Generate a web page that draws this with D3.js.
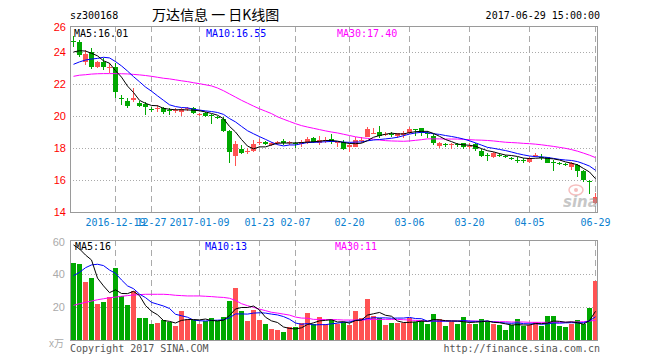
<!DOCTYPE html>
<html><head><meta charset="utf-8">
<script src="https://cdn.jsdelivr.net/npm/d3@7"></script>
<style>html,body{margin:0;padding:0;background:#fff}svg{display:block}</style>
</head><body>
<svg id="chart" width="660" height="360"></svg>
<script>
const dates = ["2016-12-08","2016-12-09","2016-12-12","2016-12-13","2016-12-14","2016-12-15","2016-12-16","2016-12-19","2016-12-20","2016-12-21",
"2016-12-22","2016-12-23","2016-12-26","2016-12-27","2016-12-28","2016-12-29","2016-12-30","2017-01-03","2017-01-04","2017-01-05",
"2017-01-06","2017-01-09","2017-01-10","2017-01-11","2017-01-12","2017-01-13","2017-01-16","2017-01-17","2017-01-18","2017-01-19",
"2017-01-20","2017-01-23","2017-01-24","2017-01-25","2017-01-26","2017-02-03","2017-02-06","2017-02-07","2017-02-08","2017-02-09",
"2017-02-10","2017-02-13","2017-02-14","2017-02-15","2017-02-16","2017-02-17","2017-02-20","2017-02-21","2017-02-22","2017-02-23",
"2017-02-24","2017-02-27","2017-02-28","2017-03-01","2017-03-02","2017-03-03","2017-03-06","2017-03-07","2017-03-08","2017-03-09",
"2017-03-10","2017-03-13","2017-03-14","2017-03-15","2017-03-16","2017-03-17","2017-03-20","2017-03-21","2017-03-22","2017-03-23",
"2017-03-24","2017-03-27","2017-03-28","2017-03-29","2017-03-30","2017-03-31","2017-04-05","2017-04-06","2017-04-07","2017-04-10",
"2017-04-11","2017-04-12","2017-04-13","2017-04-14","2017-04-17","2017-04-18","2017-04-19","2017-06-29"];

const open = [24.70,24.65,23.40,24.02,23.08,23.40,22.98,23.08,21.10,20.96, 20.98,20.83,20.72,20.46,20.48,20.48,20.35,20.37,20.23,20.44,
20.48,20.10,20.17,20.04,19.93,19.81,19.06,17.50,17.94,17.79, 17.81,18.33,18.40,18.19,18.35,18.46,18.33,18.31,18.25,18.29,
18.60,18.29,18.50,18.54,18.33,18.40,18.04,18.08,18.50,18.71, 18.94,18.98,18.88,18.88,18.75,18.79,18.96,19.21,19.23,18.96,
18.75,18.12,18.23,18.23,18.25,18.29,18.04,18.25,17.83,17.58, 17.46,17.58,17.50,17.38,17.27,17.27,17.15,17.50,17.46,17.42,
17.15,17.04,17.00,16.83,16.94,16.58,15.92,14.58];
const high = [25.00,24.75,24.12,24.23,23.46,23.60,23.30,23.30,21.30,21.10, 21.73,20.96,20.90,20.58,20.69,20.58,20.48,20.48,20.52,20.58,
20.54,20.21,20.23,20.10,20.02,19.96,19.12,18.45,18.19,18.02, 18.50,18.54,18.46,18.35,18.46,18.54,18.46,18.40,18.50,18.71,
18.71,18.75,18.71,18.85,18.40,18.50,18.29,18.71,18.71,19.29, 19.23,19.40,19.00,19.02,18.96,19.08,19.29,19.21,19.23,19.08,
18.88,18.40,18.33,18.33,18.33,18.33,18.29,18.33,17.92,17.71, 17.77,17.67,17.58,17.46,17.42,17.35,17.46,17.71,17.62,17.46,
17.25,17.12,17.06,17.12,17.00,16.62,16.00,15.17];
const low = [24.30,23.71,23.19,22.92,22.98,22.88,22.67,21.10,20.70,20.48, 20.90,20.54,20.05,20.27,20.23,20.12,20.06,20.20,20.00,20.30,
20.10,20.02,19.96,19.48,19.79,19.02,17.04,16.85,17.60,17.60, 17.77,18.19,18.19,18.12,18.19,18.19,18.19,17.98,18.04,18.25,
18.29,18.19,18.29,18.25,18.08,17.88,17.77,18.04,18.29,18.67, 18.85,18.60,18.75,18.71,18.60,18.60,18.88,18.75,18.75,18.60,
18.19,17.98,18.08,17.92,18.08,17.96,17.92,17.83,17.46,17.21, 17.35,17.42,17.40,17.25,17.08,17.04,17.04,17.42,17.25,17.04,
16.58,16.92,16.90,16.62,16.20,15.90,15.10,14.48];
const close = [24.62,23.81,23.88,23.08,23.40,23.08,23.08,21.52,21.05,20.62, 21.10,20.62,20.55,20.43,20.52,20.27,20.33,20.40,20.44,20.48,
20.17,20.14,20.00,20.02,19.90,19.08,17.77,18.25,17.67,17.83, 18.25,18.35,18.25,18.29,18.38,18.29,18.35,18.27,18.40,18.54,
18.40,18.50,18.52,18.40,18.35,17.92,18.19,18.50,18.52,19.17, 18.96,18.75,18.90,18.86,18.92,18.96,19.17,19.19,18.94,18.94,
18.29,18.29,18.21,18.25,18.23,18.04,18.12,17.92,17.50,17.56, 17.71,17.56,17.46,17.35,17.25,17.25,17.40,17.56,17.44,17.08,
17.13,17.02,16.98,17.04,16.58,16.00,15.88,14.92];
const volume = [46.7,46.1,35.2,37.8,21.8,23.0,25.9,43.6,26.9,21.2, 29.7,13.1,13.5,9.7,10.5,12.1,10.7,8.7,17.6,12.7,
12.1,9.7,11.5,13.1,11.5,14.1,23.8,31.7,17.6,11.5, 18.2,12.1,9.7,6.7,6.1,4.8,7.9,7.9,10.1,16.4,
9.7,13.9,9.5,12.1,9.5,10.7,9.1,17.6,13.5,24.8, 14.5,13.1,9.1,10.3,10.3,10.3,13.5,10.7,12.1,9.7,
15.8,12.5,8.5,11.1,9.7,13.9,9.7,9.7,12.7,11.5, 9.7,9.1,6.1,9.1,12.7,8.5,9.1,10.7,8.5,14.5,
14.5,8.5,7.9,9.7,12.1,9.7,19.6,35.8];

const ma5 = [24.00,24.08,24.06,23.92,23.76,23.45,23.30,22.83,22.43,21.87, 21.47,20.98,20.79,20.66,20.64,20.48,20.42,20.39,20.39,20.38,
20.36,20.33,20.25,20.16,20.05,19.83,19.35,19.00,18.53,18.12, 17.95,18.07,18.07,18.19,18.30,18.31,18.31,18.32,18.34,18.37,
18.39,18.42,18.47,18.47,18.43,18.34,18.28,18.27,18.30,18.46, 18.67,18.78,18.86,18.93,18.88,18.88,18.96,19.02,19.04,19.04,
18.91,18.73,18.53,18.40,18.25,18.20,18.17,18.11,17.96,17.83, 17.76,17.65,17.56,17.53,17.47,17.37,17.34,17.36,17.38,17.35,
17.32,17.25,17.13,17.05,16.95,16.72,16.50,16.08];
const ma10 = [23.23,23.38,23.50,23.56,23.60,23.67,23.63,23.40,23.13,22.81, 22.46,22.14,21.81,21.55,21.26,20.98,20.70,20.59,20.53,20.51,
20.42,20.37,20.32,20.28,20.22,20.10,19.84,19.63,19.35,19.08, 18.89,18.71,18.54,18.36,18.21,18.13,18.19,18.19,18.27,18.34,
18.35,18.37,18.39,18.41,18.40,18.37,18.35,18.37,18.38,18.45, 18.50,18.53,18.57,18.61,18.67,18.77,18.87,18.94,18.98,18.96,
18.89,18.85,18.78,18.72,18.65,18.56,18.45,18.32,18.18,18.04, 17.98,17.91,17.84,17.75,17.65,17.57,17.50,17.46,17.45,17.41,
17.35,17.29,17.25,17.22,17.15,17.02,16.87,16.61];
const ma30 = [22.48,22.55,22.58,22.62,22.64,22.65,22.65,22.65,22.64,22.63, 22.60,22.57,22.53,22.48,22.42,22.36,22.32,22.26,22.20,22.15,
22.08,22.02,21.95,21.88,21.75,21.58,21.38,21.18,20.98,20.80, 20.62,20.45,20.30,20.15,19.95,19.80,19.66,19.52,19.40,19.31,
19.23,19.15,19.07,19.00,18.94,18.86,18.78,18.70,18.64,18.60, 18.55,18.50,18.46,18.44,18.43,18.42,18.44,18.48,18.52,18.57,
18.57,18.57,18.56,18.56,18.56,18.54,18.52,18.50,18.49,18.47, 18.44,18.40,18.36,18.34,18.32,18.29,18.27,18.24,18.20,18.15,
18.10,18.04,17.98,17.90,17.80,17.68,17.55,17.40];

const vma5 = [57.6,55.2,51.5,48.5,37.5,32.8,28.7,30.4,28.2,28.1, 29.5,26.9,20.9,17.4,15.3,11.8,11.3,10.3,11.9,12.4,
12.4,12.2,12.7,11.8,11.6,12.0,14.8,18.8,19.7,19.7, 20.6,18.2,13.8,11.6,10.6,7.9,7.0,6.7,7.4,9.4,
10.4,11.6,11.9,12.3,10.9,11.1,10.2,11.8,12.1,15.1, 15.9,16.7,15.0,14.4,11.5,10.6,10.7,11.0,11.4,11.3,
12.4,12.2,11.7,11.5,11.5,11.1,10.6,10.8,11.1,11.5, 10.7,10.5,9.8,9.1,9.3,9.1,9.1,10.0,9.9,10.3,
11.5,11.3,10.8,11.0,10.5,9.6,11.8,17.4];
const vma10 = [39.0,41.0,43.8,45.5,45.9,45.1,42.4,40.4,36.4,32.8, 31.1,27.8,25.7,22.8,21.7,20.6,19.1,15.6,14.7,13.8,
12.1,11.7,11.5,11.9,12.0,12.2,13.5,15.8,15.8,15.7, 16.3,16.5,16.3,15.7,15.2,14.2,12.6,10.3,9.5,10.0,
9.1,9.3,9.3,9.8,10.2,10.8,10.9,11.9,12.2,13.0, 13.5,13.4,13.4,13.2,13.3,13.3,13.7,13.0,12.9,11.4,
11.5,11.4,11.4,11.5,11.4,11.8,11.4,11.3,11.3,11.5, 10.9,10.6,10.3,10.1,10.4,9.9,9.8,9.9,9.5,9.8,
10.3,10.2,10.4,10.5,10.4,10.5,11.6,14.1];
const vma30 = [21.0,22.0,22.8,23.6,24.4,25.0,25.6,26.0,26.5,26.9, 27.3,27.5,27.7,27.7,27.7,27.7,27.5,27.1,26.9,26.7,
26.7,26.7,26.5,26.3,26.0,25.8,25.3,24.0,22.0,20.8, 19.8,18.7,17.8,16.8,16.3,15.7,15.1,13.9,13.3,13.2,
12.5,12.5,12.4,12.4,12.3,12.1,12.1,12.1,12.1,12.3, 12.5,12.5,12.5,12.5,12.5,12.3,12.1,11.9,11.7,11.5,
11.5,11.5,11.5,11.5,11.5,11.5,11.5,11.5,11.3,11.3, 11.1,11.1,11.1,10.9,10.9,10.9,10.7,10.7,10.7,10.7,
10.7,10.7,10.7,10.9,10.9,11.1,11.5,11.9];

const priceTicks = [14,16,18,20,22,24];
const priceTopLabel = "26";
const volTicks = [20,40,60];
const volUnit = "x万";
const xTickDates = ["2016-12-19","2016-12-27","2017-01-09","2017-01-23","2017-02-07","2017-02-20","2017-03-06","2017-03-20","2017-04-05","2017-06-29"];
const xTickLabels = ["2016-12-19","12-27","2017-01-09","01-23","02-07","02-20","03-06","03-20","04-05","06-29"];
const legendPrice = ["MA5:16.01","MA10:16.55","MA30:17.40"];
const legendVol = ["MA5:16","MA10:13","MA30:11"];
const titleCode = "sz300168";
const titleName = "万达信息 一 日K线图";
const titleTime = "2017-06-29 15:00:00";

const UP = "#ff5353", DOWN = "#00a800", GRID = "#aaaaaa", BORDER = "#9a9a9a";
const MA_COLORS = ["#000000","#0000ff","#ff00ff"];
const MONO = "'DejaVu Sans Mono', 'Liberation Mono', monospace";

const L = 70, R = 598, PT = 26, PB = 212, VT = 240, VB = 340;
const svg = d3.select("#chart");
const x = d3.scaleBand().domain(dates).range([L, R]).padding(0);
const cx = d => Math.round(x(d)) + 3.5;
const yP = d3.scaleLinear().domain([14, 14 + (PB - PT) / 16]).range([PB, PT]);
const yV = d3.scaleLinear().domain([0, (VB - VT) / 1.65]).range([VB, VT]);
const crisp = v => Math.round(v) + 0.5;

const data = dates.map((d, i) => ({d, o: open[i], h: high[i], l: low[i], c: close[i], v: volume[i],
  m5: ma5[i], m10: ma10[i], m30: ma30[i], v5: vma5[i], v10: vma10[i], v30: vma30[i]}));

const grid = svg.append("g");
grid.selectAll(".hp").data(priceTicks.filter(t => t > 14)).join("line")
  .attr("x1", L).attr("x2", R).attr("y1", t => crisp(yP(t))).attr("y2", t => crisp(yP(t)))
  .attr("stroke", GRID).attr("stroke-dasharray", "1,2");
grid.selectAll(".hv").data(volTicks.filter(t => t < 60)).join("line")
  .attr("x1", L).attr("x2", R).attr("y1", t => crisp(yV(t))).attr("y2", t => crisp(yV(t)))
  .attr("stroke", GRID).attr("stroke-dasharray", "1,2");
[[PT, PB], [VT, VB]].forEach(([a, b]) => {
  grid.append("g").selectAll("line").data(xTickDates).join("line")
    .attr("x1", d => cx(d)).attr("x2", d => cx(d)).attr("y1", a).attr("y2", b)
    .attr("stroke", GRID).attr("stroke-dasharray", "6,4");
});

svg.append("g").selectAll("rect").data(data).join("rect")
  .attr("x", d => Math.round(x(d.d)) + 1).attr("width", 5)
  .attr("y", d => Math.round(yV(d.v))).attr("height", d => VB - Math.round(yV(d.v)))
  .attr("fill", d => d.c >= d.o ? UP : DOWN);

const cg = svg.append("g");
cg.selectAll("line").data(data).join("line")
  .attr("x1", d => cx(d.d)).attr("x2", d => cx(d.d))
  .attr("y1", d => Math.round(yP(d.h))).attr("y2", d => Math.round(yP(d.l)))
  .attr("stroke", d => d.c >= d.o ? UP : DOWN).attr("stroke-width", 1);
cg.selectAll("rect").data(data).join("rect")
  .attr("x", d => Math.round(x(d.d)) + 1).attr("width", 5)
  .attr("y", d => Math.round(yP(Math.max(d.o, d.c))))
  .attr("height", d => Math.max(1, Math.round(yP(Math.min(d.o, d.c))) - Math.round(yP(Math.max(d.o, d.c)))))
  .attr("fill", d => d.c >= d.o ? UP : DOWN);

const lp = k => d3.line().x(d => cx(d.d)).y(d => yP(d[k]));
const lv = k => d3.line().x(d => cx(d.d)).y(d => yV(d[k]));
["m30","m10","m5"].forEach((k, j) => svg.append("path").datum(data).attr("d", lp(k))
  .attr("fill", "none").attr("stroke", MA_COLORS[2 - j]).attr("stroke-width", 1));
["v30","v10","v5"].forEach((k, j) => svg.append("path").datum(data).attr("d", lv(k))
  .attr("fill", "none").attr("stroke", MA_COLORS[2 - j]).attr("stroke-width", 1));

const wm = svg.append("g").attr("opacity", 0.55);
wm.append("ellipse").attr("cx", 576).attr("cy", 190).attr("rx", 7).attr("ry", 5)
  .attr("fill", "none").attr("stroke", "#f08a8a").attr("stroke-width", 1.5);
wm.append("circle").attr("cx", 576).attr("cy", 190).attr("r", 2).attr("fill", "#f08a8a");
wm.append("text").attr("x", 563).attr("y", 207).text("sina")
  .attr("font-family", "'DejaVu Sans', sans-serif").attr("font-size", 15).attr("font-style", "italic")
  .attr("font-weight", "bold").attr("fill", "#9a9a9a");

const bd = svg.append("g").attr("fill", "none").attr("stroke", BORDER);
bd.append("rect").attr("x", L + 0.5).attr("y", PT + 0.5).attr("width", R - L - 1).attr("height", PB - PT);
bd.append("rect").attr("x", L + 0.5).attr("y", VT + 0.5).attr("width", R - L - 1).attr("height", VB - VT);

svg.append("g").selectAll("text").data(priceTicks).join("text")
  .attr("x", 66).attr("y", t => yP(t)).attr("dy", "0.35em").attr("text-anchor", "end")
  .attr("font-family", "'Liberation Sans', Arial, sans-serif").attr("font-size", 11).attr("fill", "#ff0000").text(t => t);
svg.append("text").attr("x", 66).attr("y", PT + 1).attr("dy", "0.35em").attr("text-anchor", "end")
  .attr("font-family", "'Liberation Sans', Arial, sans-serif").attr("font-size", 11).attr("fill", "#ff0000").text(priceTopLabel);
svg.append("g").selectAll("text").data(volTicks).join("text")
  .attr("x", 65).attr("y", t => Math.max(yV(t), VT + 2)).attr("dy", "0.35em").attr("text-anchor", "end")
  .attr("font-family", "'Liberation Sans', Arial, sans-serif").attr("font-size", 11).attr("fill", "#aaaaaa").text(t => t);
svg.append("text").attr("x", 64).attr("y", VB + 3).attr("dy", "0.35em").attr("text-anchor", "end")
  .attr("font-family", "'Liberation Sans', 'Noto Sans CJK SC', sans-serif").attr("font-size", 10).attr("fill", "#aaaaaa").text(volUnit);

svg.append("g").selectAll("text").data(xTickDates).join("text")
  .attr("x", d => cx(d)).attr("y", 226).attr("text-anchor", "middle")
  .attr("font-family", MONO).attr("font-size", 10).attr("fill", "#0a80d0")
  .text((d, i) => xTickLabels[i]);

const lgX = [74, 206, 337];
legendPrice.forEach((t, i) => svg.append("text").attr("x", lgX[i]).attr("y", 37).text(t)
  .attr("font-family", MONO).attr("font-size", 10).attr("fill", MA_COLORS[i]));
const lgV = [75, 205, 335];
legendVol.forEach((t, i) => svg.append("text").attr("x", lgV[i]).attr("y", 250).text(t)
  .attr("font-family", MONO).attr("font-size", 10).attr("fill", MA_COLORS[i]));

svg.append("text").attr("x", 70).attr("y", 19).text(titleCode)
  .attr("font-family", MONO).attr("font-size", 10).attr("fill", "#000");
svg.append("text").attr("x", 152).attr("y", 20).text(titleName)
  .attr("font-family", "'Noto Sans CJK SC', sans-serif").attr("font-size", 14).attr("fill", "#000");
svg.append("text").attr("x", 600).attr("y", 19).attr("text-anchor", "end").text(titleTime)
  .attr("font-family", MONO).attr("font-size", 10).attr("fill", "#000");

svg.append("text").attr("x", 70).attr("y", 352).text("Copyright 2017 SINA.COM")
  .attr("font-family", MONO).attr("font-size", 10).attr("fill", "#555");
svg.append("text").attr("x", 600).attr("y", 352).attr("text-anchor", "end").text("http://finance.sina.com.cn")
  .attr("font-family", MONO).attr("font-size", 10).attr("fill", "#555");
</script>
</body></html>
